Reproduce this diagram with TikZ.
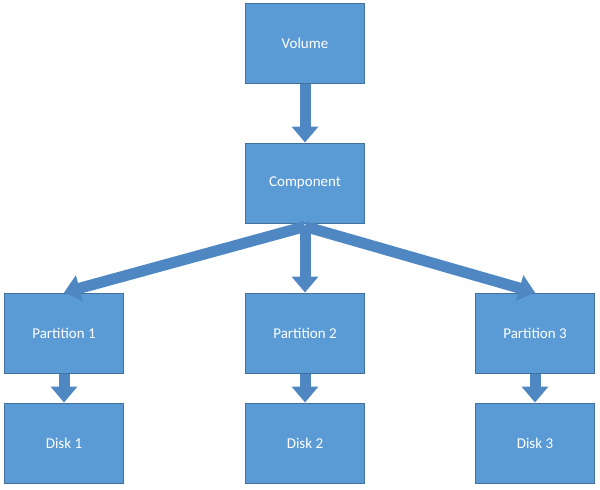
\documentclass[tikz,border=0pt]{standalone}
\usepackage{fontspec}
\setmainfont{Carlito}
\usetikzlibrary{arrows.meta}
\definecolor{boxfill}{HTML}{5B9BD5}
\definecolor{boxline}{HTML}{41719C}
\definecolor{arr}{HTML}{4F87C2}
\begin{document}
\begin{tikzpicture}[x=1pt,y=-1pt,
  box/.style={draw=boxline,fill=boxfill,line width=1pt,minimum width=119pt,minimum height=80pt,text=white,font=\fontsize{15}{18}\selectfont,inner sep=0pt},
  blk/.style={draw=arr,line width=11pt,-{Triangle[length=16pt,width=26pt]}}]
\useasboundingbox (0,0) rectangle (600,490);
\node[box] (vol) at (305,43) {Volume};
\node[box] (comp) at (305,183) {Component};
\node[box] (p1) at (64,333) {Partition 1};
\node[box] (p2) at (305,333) {Partition 2};
\node[box] (p3) at (535,333) {Partition 3};
\node[box] (d1) at (64,443) {Disk 1};
\node[box] (d2) at (305,443) {Disk 2};
\node[box] (d3) at (535,443) {Disk 3};
\coordinate (c) at ([yshift=-3pt]comp.south);
\draw[blk] (vol.south) -- (comp.north);
\draw[blk] (c) -- (p1.north);
\draw[blk] (c) -- (p2.north);
\draw[blk] (c) -- (p3.north);
\draw[blk] (p1.south) -- (d1.north);
\draw[blk] (p2.south) -- (d2.north);
\draw[blk] (p3.south) -- (d3.north);
\end{tikzpicture}
\end{document}
